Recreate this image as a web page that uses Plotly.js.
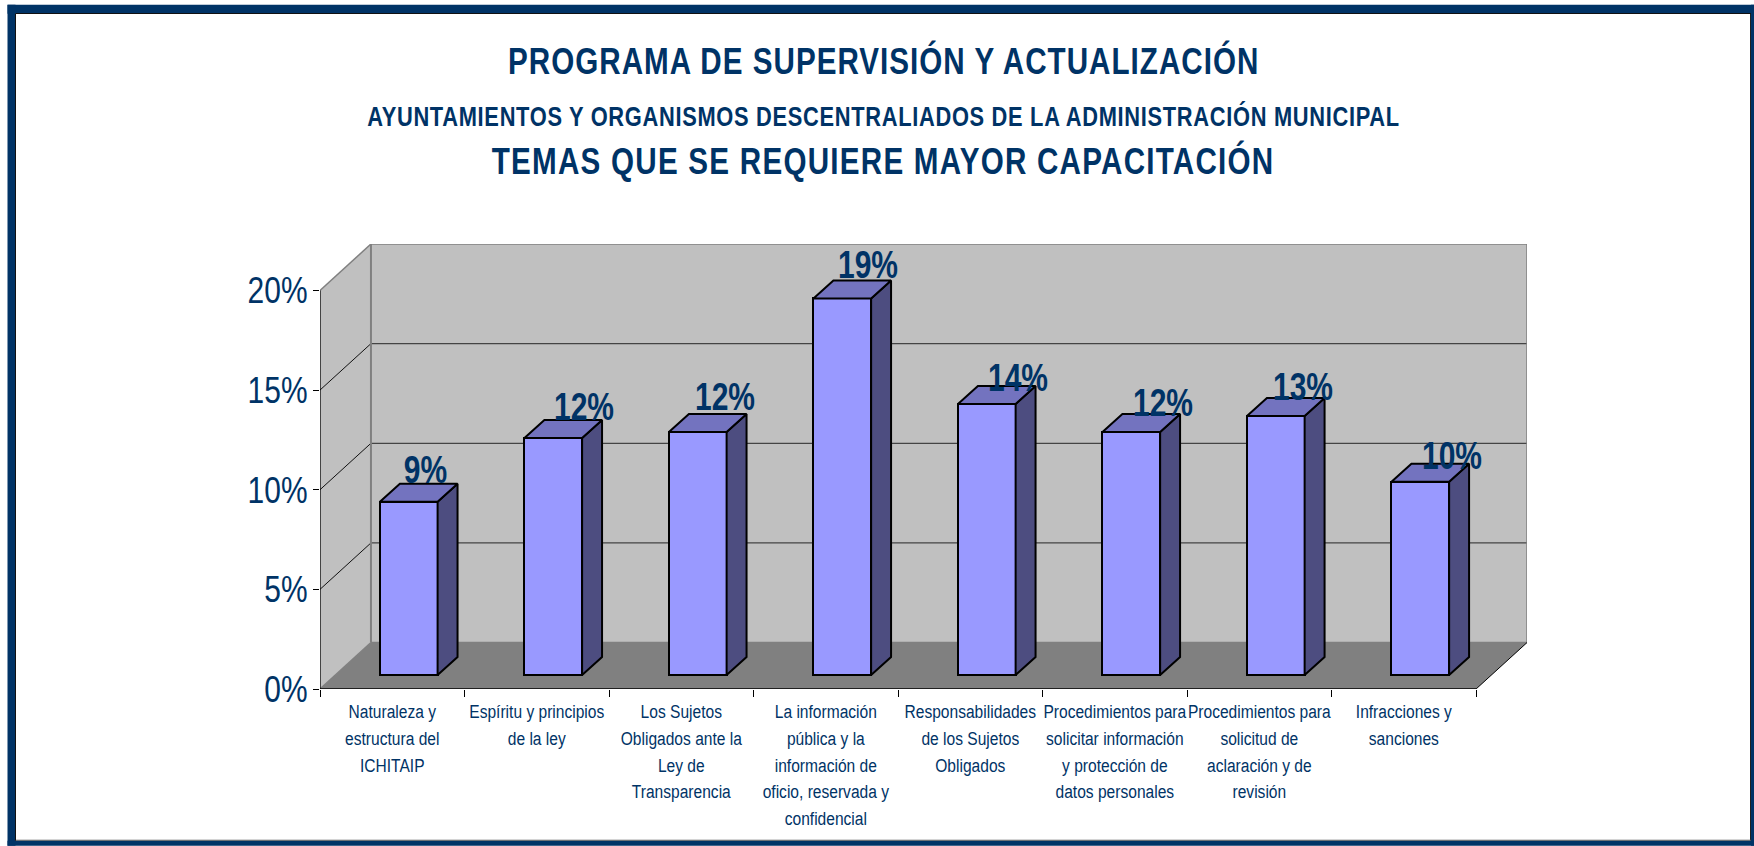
<!DOCTYPE html>
<html><head><meta charset="utf-8">
<script src="https://cdn.plot.ly/plotly-3.0.1.min.js"></script>
<style>html,body{margin:0;padding:0;background:#fff}#c{width:1754px;height:846px}</style>
</head><body><div id="c"></div>
<script>
const categories = [
 "Naturaleza y<br>estructura del<br>ICHITAIP",
 "Espíritu y principios<br>de la ley",
 "Los Sujetos<br>Obligados ante la<br>Ley de<br>Transparencia",
 "La información<br>pública y la<br>información de<br>oficio, reservada y<br>confidencial",
 "Responsabilidades<br>de los Sujetos<br>Obligados",
 "Procedimientos para<br>solicitar información<br>y protección de<br>datos personales",
 "Procedimientos para<br>solicitud de<br>aclaración y de<br>revisión",
 "Infracciones y<br>sanciones"
];
const values = [8.7, 11.9, 12.2, 18.9, 13.6, 12.2, 13.0, 9.7];
const valueLabels = ["9%","12%","12%","19%","14%","12%","13%","10%"];
const yTicks = [0,5,10,15,20];
const titleLines = [
 "PROGRAMA DE SUPERVISIÓN Y ACTUALIZACIÓN",
 "AYUNTAMIENTOS Y ORGANISMOS DESCENTRALIADOS DE LA ADMINISTRACIÓN MUNICIPAL",
 "TEMAS QUE SE REQUIERE MAYOR CAPACITACIÓN"
];

// style & placement constants
const NAVY = '#003366', SANS = '"Liberation Sans",Arial,sans-serif';
const titleStyle = [{size:37,y:60,ls:1.28,sx:.8},{size:28,y:116,ls:.9,sx:.78},{size:37,y:160,ls:1.56,sx:.8}];
const labelShiftX = [-11,3,-1,-2,3,4,-1,4], labelShiftY = [1,2,-2,0,7,4,4,7];
const W=1754,H=846,mL=320,mR=227,mT=243.5,mB=157;
const depthX = 0.3526, depthY = 2.33;
const barW = 0.399, barDY = 0.7, barSideX = 0.138, barSideY = 0.9;
const n = categories.length;
const idx = categories.map((_, i) => i);
const left = i => i + 0.5 - barW/2 + depthX/2 - barSideX/2 + 0.007;
const pw=W-mL-mR, ph=H-mT-mB;
const px = v => (v-mL)/pw, py = v => 1-(v-mT)/ph;

function poly(pts, fill){ return {type:'path', layer:'below', xref:'x', yref:'y',
  path:'M'+pts.map(p=>p.join(',')).join('L')+'Z', fillcolor:fill, line:{width:0}}; }
function seg(x0,y0,x1,y1,color,w){ return {type:'line', layer:'below', xref:'x', yref:'y',x0,y0,x1,y1,line:{color,width:w}}; }
function band(x0,y0,x1,y1,c){ return {type:'rect',layer:'below',xref:'paper',yref:'paper',x0:px(x0),x1:px(x1),y0:py(y0),y1:py(y1),fillcolor:c,line:{width:0}}; }

const shapes = [
  band(7.5,4,W,13,NAVY), band(7.5,4,15.5,H,NAVY), band(7.5,841,W,H,NAVY), band(1751,4,W,H,NAVY),
  band(15.5,12.3,1751,13.3,'#111'), band(15,13,16,841,'#111'), band(1750,13,1751,841,'#222'), band(16,840,1751,841,'#555'),
  poly([[0,0],[depthX,depthY],[depthX,20+depthY],[0,20]], '#C0C0C0'),
  poly([[depthX,depthY],[n+depthX,depthY],[n+depthX,20+depthY],[depthX,20+depthY]], '#C0C0C0'),
  poly([[0,0],[n,0],[n+depthX,depthY],[depthX,depthY]], '#808080')
];
yTicks.slice(1,-1).forEach(v=>{
  shapes.push(seg(0,v,depthX,v+depthY,'#111',1));
  shapes.push(seg(depthX,v+depthY,n+depthX,v+depthY,'#444',1.3));
});
shapes.push(seg(0,20,depthX,20+depthY,'#808080',1.5));
shapes.push(seg(depthX,20+depthY,n+depthX,20+depthY,'#808080',1.5));
shapes.push(seg(depthX,depthY,depthX,20+depthY,'#808080',2));
shapes.push(seg(n+depthX,depthY,n+depthX,20+depthY,'#808080',1.5));
shapes.push(seg(depthX,depthY,n+depthX,depthY,'#808080',1.5));
shapes.push(seg(0,0,depthX,depthY,'#808080',1.5));
shapes.push(seg(n,0,n+depthX,depthY,'#000',1));
shapes.push(seg(0,0,0,20,'#000',1.3));
shapes.push(seg(0,0,n,0,'#000',1.5));

const front = {type:'bar', x:idx.map(i=>left(i)+barW/2), y:values, base:idx.map(()=>barDY), width:barW,
  marker:{color:'#9999FF',line:{color:'#000',width:2}}, hoverinfo:'skip', showlegend:false};

const sideX=[], sideY=[], topX=[], topY=[];
idx.forEach(i=>{
  const l=left(i), r=l+barW, b=barDY, t=barDY+values[i];
  sideX.push(r,r+barSideX,r+barSideX,r,r,null);
  sideY.push(b,b+barSideY,t+barSideY,t,b,null);
  topX.push(l,r,r+barSideX,l+barSideX,l,null);
  topY.push(t,t,t+barSideY,t+barSideY,t,null);
});
const side = {type:'scatter',mode:'lines',x:sideX,y:sideY,fill:'toself',fillcolor:'#4D4D80',
  line:{color:'#000',width:2},hoverinfo:'skip',showlegend:false};
const top_ = {type:'scatter',mode:'lines',x:topX,y:topY,fill:'toself',fillcolor:'#7373BF',
  line:{color:'#000',width:2},hoverinfo:'skip',showlegend:false};

const annotations = idx.map(i=>({xref:'x',yref:'y',x:left(i)+57/144.6,y:barDY+values[i]+barSideY,
  text:valueLabels[i],showarrow:false,xanchor:'center',yanchor:'bottom',
  xshift:labelShiftX[i],yshift:-7-labelShiftY[i],
  font:{family:SANS,size:38,color:NAVY,weight:700},borderpad:0}));
titleLines.forEach((t,i)=>annotations.push({xref:'paper',yref:'paper',x:px(883),y:py(titleStyle[i].y),text:t,
  showarrow:false,xanchor:'center',yanchor:'middle',font:{family:SANS,size:titleStyle[i].size,color:NAVY,weight:700}}));

const layout = {
  width:W,height:H,
  margin:{l:mL,r:mR,t:mT,b:mB,pad:0},
  paper_bgcolor:'#fff',plot_bgcolor:'rgba(0,0,0,0)',showlegend:false,bargap:0,
  xaxis:{range:[0,n+depthX],tickmode:'array',tickvals:idx.map(i=>i+0.5),
    ticktext:categories.map(c=>c.split('<br>').map(l=>'<span style="font-size:19px">'+l+'</span>').join('<br>')),
    ticks:'',showgrid:false,zeroline:false,showline:false,tickangle:0,automargin:false,
    tickfont:{family:SANS,size:20.5,color:NAVY},ticklabelstandoff:8,
    minor:{tickmode:'array',tickvals:Array.from({length:n+1},(_,i)=>i),ticks:'outside',ticklen:7,tickcolor:'#000',tickwidth:1,showgrid:false}},
  yaxis:{range:[0,20+depthY],tickmode:'array',tickvals:yTicks,ticktext:yTicks.map(v=>v+'%'),
    ticks:'outside',ticklen:6,tickcolor:'#000',tickwidth:1,showgrid:false,zeroline:false,showline:false,automargin:false,
    tickfont:{family:SANS,size:37,color:NAVY},ticklabelstandoff:-2},
  shapes,annotations
};

// The reference lettering is horizontally condensed; no condensed face is installed,
// so each real text element is narrowed about its own anchor after drawing.
function squeeze(el,sx){
  const b=el.getBBox(), a=el.getAttribute('text-anchor')||'start';
  const cx = a==='middle' ? b.x+b.width/2 : a==='end' ? b.x+b.width : b.x;
  const t=el.getAttribute('transform')||'';
  el.setAttribute('transform',t+' translate('+cx+',0) scale('+sx+',1) translate('+(-cx)+',0)');
}
Plotly.newPlot('c',[front,side,top_],layout,{displayModeBar:false,responsive:false}).then(gd=>{
  gd.querySelectorAll('.xtick text').forEach(e=>squeeze(e,.82));
  gd.querySelectorAll('.ytick text').forEach(e=>squeeze(e,.81));
  const ann=gd.querySelectorAll('.annotation-text');
  ann.forEach((e,i)=>{
    if(i<n){squeeze(e,.79);return;}
    const s=titleStyle[i-n];
    e.style.letterSpacing=s.ls+'px';
    squeeze(e,s.sx);
  });
});
</script>
</body></html>
